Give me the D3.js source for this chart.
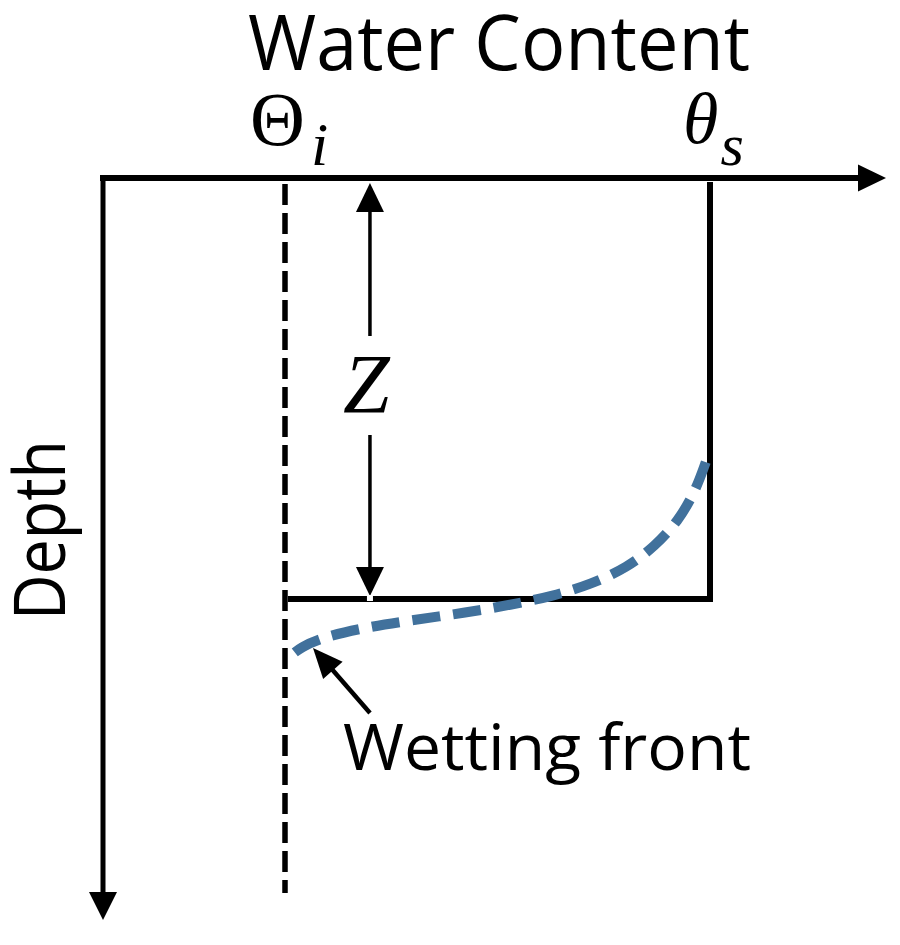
<!DOCTYPE html>
<html>
<head>
<meta charset="utf-8">
<script src="https://cdn.jsdelivr.net/npm/d3@7"></script>
<style>
  html, body { margin: 0; padding: 0; background: #fff; }
  svg { display: block; }
</style>
</head>
<body>
<svg id="chart" width="900" height="945"></svg>
<script>
// wetting front profile: water content (0 = θi, 1 = θs) vs depth (1 = Z)
const frontTheta = [0.990, 0.965, 0.925, 0.870, 0.805, 0.720, 0.630, 0.530, 0.420, 0.300, 0.190, 0.090, 0.035, 0.005]
const frontDepth = [0.675, 0.745, 0.815, 0.875, 0.925, 0.965, 0.993, 1.014, 1.033, 1.050, 1.067, 1.090, 1.114, 1.140]

// theta labels on the top axis
const thetaSymbols = ['Θ', 'θ']
const thetaSubs = ['i', 's']
const thetaValues = [0, 1]

const zDepth = 1 // sharp front depth Z
const xTitle = 'Water Content'
const yTitle = 'Depth'
const frontLabel = 'Wetting front'

const svg = d3.select('#chart')

// 比例尺
const x = d3.scaleLinear().domain([0, 1]).range([286, 710])
const y = d3.scaleLinear().domain([0, 1]).range([178, 599])

const xMin = x.invert(103)
const xMax = x.invert(886)
const yMax = y.invert(920)

// 箭头
function arrowHead(tipX, tipY, angle, len, half) {
  return svg.append('path')
    .attr('d', `M0,0 L${-len},${-half} L${-len},${half} Z`)
    .attr('transform', `translate(${tipX},${tipY}) rotate(${angle})`)
    .attr('fill', '#000')
}

// 水平轴
svg.append('line')
  .attr('x1', x(xMin) - 3).attr('y1', y(0))
  .attr('x2', x(xMax) - 20).attr('y2', y(0))
  .attr('stroke', '#000').attr('stroke-width', 6)
arrowHead(x(xMax), y(0), 0, 28, 13.5)

// 竖直轴
svg.append('line')
  .attr('x1', x(xMin)).attr('y1', y(0) - 3)
  .attr('x2', x(xMin)).attr('y2', y(yMax) - 20)
  .attr('stroke', '#000').attr('stroke-width', 5)
arrowHead(x(xMin), y(yMax), 90, 28, 14)

// θi 虚线
svg.append('line')
  .attr('x1', x(thetaValues[0]) - 1).attr('y1', y(0) + 6)
  .attr('x2', x(thetaValues[0]) - 1).attr('y2', y(yMax) - 27)
  .attr('stroke', '#000').attr('stroke-width', 5.5)
  .attr('stroke-dasharray', '21 8')

// 湿润区矩形
svg.append('path')
  .attr('d', `M${x(0) + 2},${y(zDepth)} L${x(1)},${y(zDepth)} L${x(1)},${y(0) + 4}`)
  .attr('fill', 'none').attr('stroke', '#000').attr('stroke-width', 6)
  .attr('stroke-linejoin', 'miter')

// Z 双向箭头
const zx = x(0.198)
svg.append('line')
  .attr('x1', zx).attr('y1', y(0) + 30).attr('x2', zx).attr('y2', 336)
  .attr('stroke', '#000').attr('stroke-width', 3.5)
svg.append('line')
  .attr('x1', zx).attr('y1', 435).attr('x2', zx).attr('y2', y(zDepth) - 30)
  .attr('stroke', '#000').attr('stroke-width', 3.5)
arrowHead(zx, y(0) + 5, -90, 29, 14)
arrowHead(zx, y(zDepth) - 3, 90, 29, 14)
svg.append('rect')
  .attr('x', zx - 3).attr('y', y(zDepth) - 4).attr('width', 6).attr('height', 6)
  .attr('fill', '#fff')

svg.append('text')
  .attr('x', 343).attr('y', 413)
  .attr('font-family', 'Liberation Serif').attr('font-style', 'italic')
  .attr('font-size', 84)
  .text('Z')

// 湿润锋曲线
const line = d3.line()
  .x((d, i) => x(frontTheta[i]))
  .y((d, i) => y(frontDepth[i]))
  .curve(d3.curveBasis)
svg.append('path')
  .datum(frontTheta)
  .attr('d', line)
  .attr('fill', 'none')
  .attr('stroke', '#41719c')
  .attr('stroke-width', 10)
  .attr('stroke-dasharray', '28 13')

// Wetting front 注释箭头
svg.append('line')
  .attr('x1', 370).attr('y1', 713).attr('x2', 330).attr('y2', 667)
  .attr('stroke', '#000').attr('stroke-width', 4.5)
arrowHead(313, 648, 228.5, 30, 13)

svg.append('text')
  .attr('x', 343).attr('y', 770)
  .attr('font-family', 'Open Sans').attr('font-size', 64)
  .attr('textLength', 408).attr('lengthAdjust', 'spacingAndGlyphs')
  .text(frontLabel)

// 标题
svg.append('text')
  .attr('x', 248).attr('y', 70)
  .attr('font-family', 'Open Sans').attr('font-size', 76)
  .attr('textLength', 502).attr('lengthAdjust', 'spacingAndGlyphs')
  .text(xTitle)

svg.append('text')
  .attr('transform', 'translate(65,620) rotate(-90)')
  .attr('font-family', 'Open Sans').attr('font-size', 72)
  .attr('textLength', 180).attr('lengthAdjust', 'spacingAndGlyphs')
  .text(yTitle)

// θ 标签
const symX = [250, 683]
const symSize = [76, 72]
const subDx = [6, 2]
thetaValues.forEach((v, i) => {
  const t = svg.append('text')
    .attr('x', symX[i]).attr('y', i === 0 ? 145 : 143)
    .attr('font-family', 'Liberation Serif').attr('font-size', symSize[i])
  t.append('tspan')
    .attr('font-style', i === 0 ? 'normal' : 'italic')
    .text(thetaSymbols[i])
  t.append('tspan')
    .attr('font-style', 'italic')
    .attr('dx', subDx[i])
    .attr('dy', i === 0 ? 20 : 22)
    .attr('font-size', i === 0 ? 62 : 60)
    .text(thetaSubs[i])
})
</script>
</body>
</html>
